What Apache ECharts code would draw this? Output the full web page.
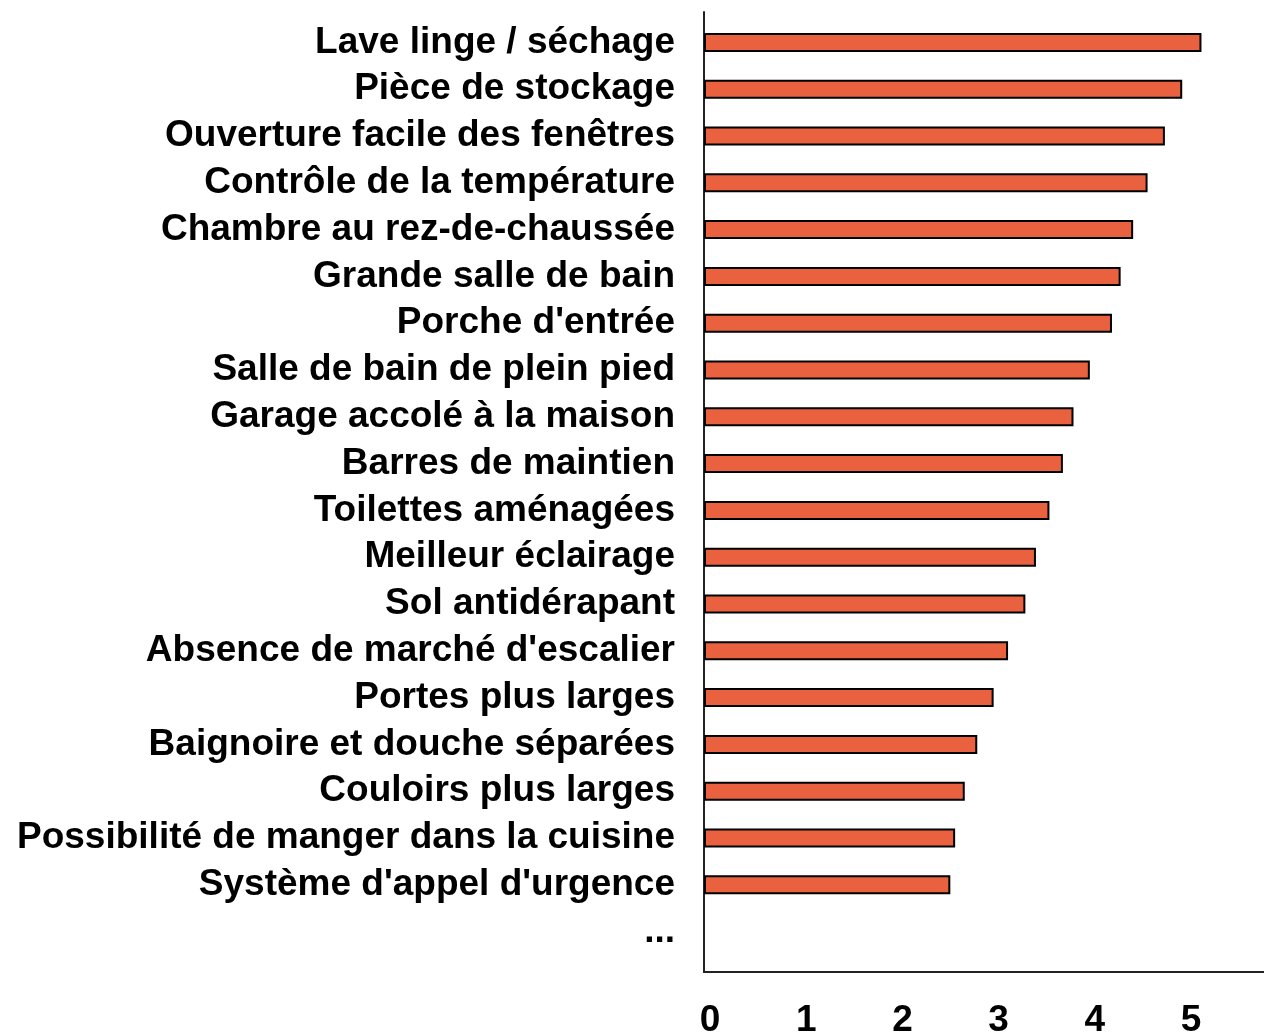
<!DOCTYPE html>
<html>
	<head>
		<meta charset="utf-8">
		<title></title>
		<script src="https://cdn.jsdelivr.net/npm/echarts@6/dist/echarts.min.js"></script>
		<style>
			html, body { margin: 0; padding: 0; background: #fff; }
		</style>
	</head>
	<body>
		<div id="main" style="width: 1264px;height:1032px;"></div>
		<script>
			// catégories, de haut en bas
			var categories = [
				'Lave linge / séchage',
				'Pièce de stockage',
				'Ouverture facile des fenêtres',
				'Contrôle de la température',
				'Chambre au rez-de-chaussée',
				'Grande salle de bain',
				"Porche d'entrée",
				'Salle de bain de plein pied',
				'Garage accolé à la maison',
				'Barres de maintien',
				'Toilettes aménagées',
				'Meilleur éclairage',
				'Sol antidérapant',
				"Absence de marché d'escalier",
				'Portes plus larges',
				'Baignoire et douche séparées',
				'Couloirs plus larges',
				'Possibilité de manger dans la cuisine',
				"Système d'appel d'urgence",
				'...'
			];
			// valeurs (le '...' n'a pas de barre)
			var values = [5.17, 4.97, 4.79, 4.61, 4.46, 4.33, 4.24, 4.01, 3.84, 3.73,
				3.59, 3.45, 3.34, 3.16, 3.01, 2.84, 2.71, 2.61, 2.56, null];
			var xMin = 0;
			var xMax = 5.82;
			var xStep = 1;

			var font = '"Liberation Sans", Arial, sans-serif';
			var myChart = echarts.init(document.getElementById('main'));

			var option = {
				animation: false,
				backgroundColor: '#fff',
				grid: [
					// grille des axes (lignes + graduations)
					{ left: 704, right: 0, top: 12, bottom: 60, outerBoundsMode: 'none' },
					// grille des barres
					{ left: 704, right: 0, top: 19, bottom: 77, outerBoundsMode: 'none' }
				],
				xAxis: [
					{
						gridIndex: 0,
						type: 'value',
						min: xMin,
						max: xMax,
						interval: xStep,
						axisLine: { show: true, lineStyle: { color: '#222', width: 2 } },
						axisTick: { show: false },
						splitLine: { show: false },
						axisLabel: {
							margin: 30,
							padding: [0, 0, 0, 12],
							color: '#000',
							fontSize: 37,
							fontWeight: 'bold',
							fontFamily: font,
							formatter: function(v) {
								return Number.isInteger(v) ? v : '';
							}
						}
					},
					{
						gridIndex: 1,
						type: 'value',
						min: xMin,
						max: xMax,
						show: false
					}
				],
				yAxis: [
					{
						gridIndex: 0,
						type: 'value',
						min: 0,
						max: 1,
						axisLine: { show: true, lineStyle: { color: '#222', width: 2 } },
						axisTick: { show: false },
						axisLabel: { show: false },
						splitLine: { show: false }
					},
					{
						gridIndex: 1,
						type: 'category',
						inverse: true,
						data: categories,
						axisLine: { show: false },
						axisTick: { show: false },
						axisLabel: {
							interval: 0,
							margin: 29,
							color: '#000',
							fontSize: 37,
							fontWeight: 'bold',
							fontFamily: font
						}
					}
				],
				series: [
					{
						type: 'bar',
						xAxisIndex: 1,
						yAxisIndex: 1,
						data: values,
						barWidth: 19,
						itemStyle: {
							color: '#E9613F',
							borderColor: '#000',
							borderWidth: 2
						}
					}
				]
			};
			myChart.setOption(option);
		</script>
	</body>
</html>
